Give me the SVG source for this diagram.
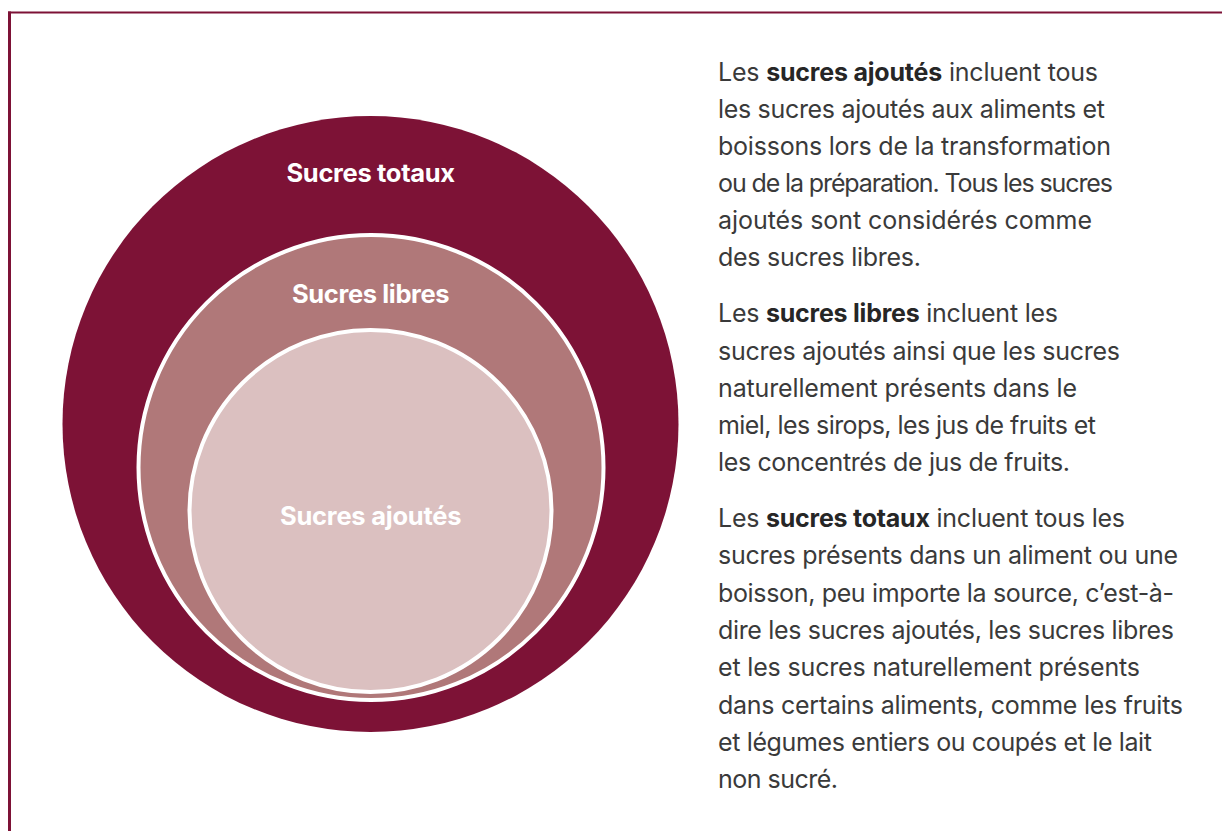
<svg xmlns="http://www.w3.org/2000/svg" width="1222" height="831" viewBox="0 0 1222 831">
<style>
.frame{stroke:#7d1236;fill:none}
.lbl{font-family:Inter,"Liberation Sans",sans-serif;font-weight:700;font-size:25.5px;fill:#ffffff;text-anchor:middle;letter-spacing:-0.6px}
.body{font-family:Inter,"Liberation Sans",sans-serif;font-size:25px;fill:#3a3a3a;letter-spacing:-1px}
.b{font-weight:700;fill:#262626}
</style>
<rect width="1222" height="831" fill="#ffffff"/>
<g id="frame">
<line class="frame" x1="8" y1="12.5" x2="1222" y2="12.5" stroke-width="2"/>
<line class="frame" x1="9.5" y1="11.5" x2="9.5" y2="831" stroke-width="3"/>
</g>
<g id="sucres-totaux">
<circle cx="370.5" cy="424" r="308" fill="#7d1236"/>
<text class="lbl" x="370.5" y="182" textLength="168" lengthAdjust="spacing">Sucres totaux</text>
</g>
<g id="sucres-libres">
<circle cx="371" cy="467.5" r="232.5" fill="#b07879" stroke="#ffffff" stroke-width="4"/>
<text class="lbl" x="370.5" y="303" textLength="157" lengthAdjust="spacing">Sucres libres</text>
</g>
<g id="sucres-ajoutes">
<circle cx="370.5" cy="511" r="181" fill="#dbc0c0" stroke="#ffffff" stroke-width="4"/>
<text class="lbl" x="370.5" y="525" textLength="181" lengthAdjust="spacing">Sucres ajoutés</text>
</g>
<g id="connectors"></g>
<g id="text-ajoutes">
<text class="body" x="718" y="81" textLength="379" lengthAdjust="spacing">Les <tspan class="b">sucres ajoutés</tspan> incluent tous</text>
<text class="body" x="718" y="118" textLength="386" lengthAdjust="spacing">les sucres ajoutés aux aliments et</text>
<text class="body" x="718" y="155" textLength="392" lengthAdjust="spacing">boissons lors de la transformation</text>
<text class="body" x="718" y="192" textLength="394" lengthAdjust="spacing">ou de la préparation. Tous les sucres</text>
<text class="body" x="718" y="229" textLength="373" lengthAdjust="spacing">ajoutés sont considérés comme</text>
<text class="body" x="718" y="266" textLength="202" lengthAdjust="spacing">des sucres libres.</text>
</g>
<g id="text-libres">
<text class="body" x="718" y="322" textLength="339" lengthAdjust="spacing">Les <tspan class="b">sucres libres</tspan> incluent les</text>
<text class="body" x="718" y="359.5" textLength="401" lengthAdjust="spacing">sucres ajoutés ainsi que les sucres</text>
<text class="body" x="718" y="397" textLength="358" lengthAdjust="spacing">naturellement présents dans le</text>
<text class="body" x="718" y="434" textLength="377" lengthAdjust="spacing">miel, les sirops, les jus de fruits et</text>
<text class="body" x="718" y="471" textLength="351" lengthAdjust="spacing">les concentrés de jus de fruits.</text>
</g>
<g id="text-totaux">
<text class="body" x="718" y="527" textLength="406" lengthAdjust="spacing">Les <tspan class="b">sucres totaux</tspan> incluent tous les</text>
<text class="body" x="718" y="564.3" textLength="459" lengthAdjust="spacing">sucres présents dans un aliment ou une</text>
<text class="body" x="718" y="601.6" textLength="455" lengthAdjust="spacing">boisson, peu importe la source, c’est-à-</text>
<text class="body" x="718" y="638.9" textLength="455" lengthAdjust="spacing">dire les sucres ajoutés, les sucres libres</text>
<text class="body" x="718" y="676.2" textLength="421" lengthAdjust="spacing">et les sucres naturellement présents</text>
<text class="body" x="718" y="713.5" textLength="464" lengthAdjust="spacing">dans certains aliments, comme les fruits</text>
<text class="body" x="718" y="750.8" textLength="433" lengthAdjust="spacing">et légumes entiers ou coupés et le lait</text>
<text class="body" x="718" y="788" textLength="119" lengthAdjust="spacing">non sucré.</text>
</g>
</svg>
